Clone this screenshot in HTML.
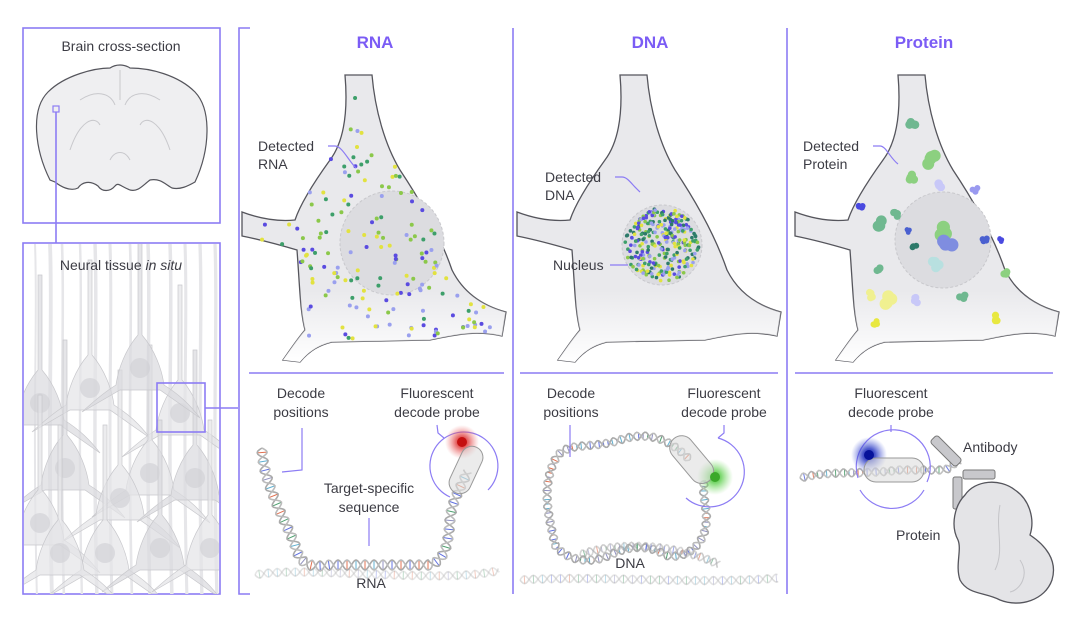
<!DOCTYPE html>
<html><head><meta charset="utf-8">
<style>
html,body{margin:0;padding:0;background:#fff;}
svg{display:block;}
text{font-family:"Liberation Sans",sans-serif;fill:#3c3c44;font-size:14px;}
.t{font-size:17px;font-weight:bold;fill:#7b5cf5;}
.ln{stroke:#8c7cf4;stroke-width:1.6;fill:none;}
.cell{fill:#e9e9ec;stroke:#55555c;stroke-width:1.3;}
</style></head>
<body>
<svg id="s" width="1080" height="619" viewBox="0 0 1080 619" xmlns="http://www.w3.org/2000/svg">
<defs>
<radialGradient id="gr"><stop offset="0" stop-color="#d01818"/><stop offset="0.35" stop-color="#e04040" stop-opacity=".8"/><stop offset="1" stop-color="#f08080" stop-opacity="0"/></radialGradient>
<radialGradient id="gg"><stop offset="0" stop-color="#3bb02a"/><stop offset="0.35" stop-color="#60d050" stop-opacity=".8"/><stop offset="1" stop-color="#90e080" stop-opacity="0"/></radialGradient>
<radialGradient id="gb"><stop offset="0" stop-color="#0a10a0"/><stop offset="0.35" stop-color="#2030c0" stop-opacity=".8"/><stop offset="1" stop-color="#6070e0" stop-opacity="0"/></radialGradient>
<linearGradient id="tis" x1="0" y1="0" x2="0" y2="1"><stop offset="0" stop-color="#fdfdfd"/><stop offset="1" stop-color="#f0f0f2"/></linearGradient>
<linearGradient id="fadeb" x1="0" y1="0" x2="0" y2="1"><stop offset="0.75" stop-color="#fff" stop-opacity="0"/><stop offset="1" stop-color="#fff" stop-opacity="1"/></linearGradient>
<clipPath id="tc"><rect x="24" y="244" width="195" height="350"/></clipPath>
</defs>

<rect x="23" y="28" width="197" height="195" fill="#fff" class="ln"/>
<text x="121" y="51" text-anchor="middle">Brain cross-section</text>
<path d="M50,180 C35,150 30,110 48,92 C65,75 95,68 110,68 C116,64 124,64 130,68 C150,68 178,75 195,92 C212,110 210,150 195,182 C188,186 180,190 172,188 C165,184 160,178 150,180 C142,186 138,192 130,190 C120,186 118,182 115,186 C110,192 102,192 98,186 C90,180 82,182 78,188 C70,192 60,186 55,182 Z" fill="#efeff1" stroke="#55555c" stroke-width="1.2"/>
<path d="M120,70 L120,100 M80,100 C95,90 110,92 115,105 M160,100 C145,90 130,92 125,105 M70,150 C80,120 95,115 100,125 M170,150 C160,120 145,115 140,125 M110,160 C115,150 125,150 130,160" stroke="#c8c8cc" fill="none"/>
<rect x="53" y="106" width="6" height="6" fill="#fff" class="ln" style="stroke-width:1.2"/>
<line x1="56" y1="112" x2="56" y2="243" class="ln"/>

<rect x="23" y="243" width="197" height="351" fill="url(#tis)" class="ln"/>
<g clip-path="url(#tc)" id="tissue"></g>
<text x="121" y="270" text-anchor="middle">Neural tissue <tspan font-style="italic">in situ</tspan></text>
<rect x="157" y="383" width="48" height="49" fill="none" class="ln"/>
<line x1="205" y1="408" x2="238" y2="408" class="ln"/>

<path d="M250,28 L239,28 L239,594 L250,594" class="ln"/>
<line x1="513" y1="28" x2="513" y2="594" class="ln"/>
<line x1="787" y1="28" x2="787" y2="594" class="ln"/>
<line x1="249" y1="373" x2="504" y2="373" class="ln"/>
<line x1="520" y1="373" x2="778" y2="373" class="ln"/>
<line x1="795" y1="373" x2="1053" y2="373" class="ln"/>

<text x="375" y="48" class="t" text-anchor="middle">RNA</text>
<text x="650" y="48" class="t" text-anchor="middle">DNA</text>
<text x="924" y="48" class="t" text-anchor="middle">Protein</text>

<g id="cells"></g>
<g id="helix"></g>

<text x="258" y="151">Detected</text><text x="258" y="169">RNA</text>
<path d="M328,146 L335,146 C342,146 348,160 356,168" class="ln" style="stroke-width:1.2"/>
<text x="545" y="182">Detected</text><text x="545" y="200">DNA</text>
<path d="M615,177 L622,177 C628,177 632,185 640,192" class="ln" style="stroke-width:1.2"/>
<text x="553" y="270">Nucleus</text>
<path d="M610,265 L628,265" class="ln" style="stroke-width:1.2"/>
<text x="803" y="151">Detected</text><text x="803" y="169">Protein</text>
<path d="M873,146 L880,146 C886,146 890,158 898,164" class="ln" style="stroke-width:1.2"/>

<text x="301" y="398" text-anchor="middle">Decode</text><text x="301" y="417" text-anchor="middle">positions</text>
<path d="M302,428 L302,470 L282,472" class="ln" style="stroke-width:1.2"/>
<text x="437" y="398" text-anchor="middle">Fluorescent</text><text x="437" y="417" text-anchor="middle">decode probe</text>
<text x="369" y="493" text-anchor="middle">Target-specific</text><text x="369" y="512" text-anchor="middle">sequence</text>
<line x1="369" y1="518" x2="369" y2="546" class="ln" style="stroke-width:1.2"/>
<text x="371" y="588" text-anchor="middle">RNA</text>
<path d="M450,497 A34,34 0 1 1 488,490" class="ln" style="stroke-width:1.2"/>
<path d="M437,425 L438,433 L444,438" class="ln" style="stroke-width:1.2"/>
<circle cx="462" cy="442" r="17" fill="url(#gr)"/>
<rect x="455" y="445" width="22" height="50" rx="11" fill="#ddd" fill-opacity=".6" stroke="#999" transform="rotate(25 466 470)"/>
<circle cx="462" cy="442" r="5" fill="#c41010"/>

<text x="571" y="398" text-anchor="middle">Decode</text><text x="571" y="417" text-anchor="middle">positions</text>
<line x1="570" y1="425" x2="570" y2="457" class="ln" style="stroke-width:1.2"/>
<text x="724" y="398" text-anchor="middle">Fluorescent</text><text x="724" y="417" text-anchor="middle">decode probe</text>
<path d="M724,425 L724,433 L718,438 M718,438 A35,35 0 1 1 686,498" class="ln" style="stroke-width:1.2"/>
<circle cx="715" cy="477" r="18" fill="url(#gg)"/>
<rect x="680" y="432" width="24" height="55" rx="12" fill="#ddd" fill-opacity=".6" stroke="#999" transform="rotate(-40 692 460)"/>
<circle cx="715" cy="477" r="5" fill="#3aa82a"/>
<text x="630" y="568" text-anchor="middle">DNA</text>

<text x="891" y="398" text-anchor="middle">Fluorescent</text><text x="891" y="417" text-anchor="middle">decode probe</text>
<line x1="891" y1="425" x2="891" y2="432" class="ln" style="stroke-width:1.2"/>
<path d="M858,478 A37,37 0 1 1 927,482 M924,490 A37,37 0 0 1 860,490" class="ln" style="stroke-width:1.2"/>
<circle cx="869" cy="455" r="18" fill="url(#gb)"/>
<rect x="864" y="458" width="60" height="24" rx="12" fill="#ddd" fill-opacity=".6" stroke="#999"/>
<circle cx="869" cy="455" r="5" fill="#06129a"/>
<g fill="#c8c8cc" stroke="#777" stroke-width="1">
<rect x="928" y="446" width="36" height="10" rx="3" transform="rotate(45 946 451)"/>
<rect x="963" y="470" width="32" height="9" rx="2"/>
<rect x="953" y="477" width="9" height="32" rx="2"/>
</g>
<text x="963" y="452">Antibody</text>
<path d="M965,495 C975,480 1000,478 1015,490 C1030,500 1035,520 1030,535 C1045,545 1058,560 1052,580 C1045,600 1020,608 1000,600 C985,592 968,595 960,580 C955,565 962,550 958,540 C950,525 955,505 965,495 Z" fill="#e4e4e7" stroke="#55555c" stroke-width="1.3"/>
<path d="M1000,505 C995,530 1005,550 995,570 M1020,560 C1030,575 1020,590 1010,592" stroke="#c4c4c8" fill="none"/>
<text x="896" y="540">Protein</text>
</svg>
<script>
(function(){
var NS="http://www.w3.org/2000/svg";
var seed=7;function r(){seed=(seed*16807)%2147483647;return (seed-1)/2147483646;}
function el(t,a,p){var e=document.createElementNS(NS,t);for(var k in a)e.setAttribute(k,a[k]);(p||document.getElementById('s')).appendChild(e);return e;}
var tg=document.getElementById('tissue');
var xs=[35,50,62,80,95,110,130,148,170,185,200,215];
xs.forEach(function(x){el('path',{d:'M'+x+',244 C'+(x+3)+',320 '+(x-3)+',400 '+(x+2)+',600',stroke:'#e6e6e9','stroke-width':2+r()*2,fill:'none'},tg);});
var cells=[[40,395],[90,380],[180,405],[65,460],[150,465],[120,490],[195,470],[40,515],[105,545],[160,540],[60,545],[210,540],[140,360]];
cells.forEach(function(c,i){var x=c[0],y=c[1],g='#'+(i%3?'e4e4e7':'dadade');
el('path',{d:'M'+(x-2)+','+(y-120)+' L'+(x-2)+','+(y-25)+' C'+(x-15)+','+(y-10)+' '+(x-22)+','+(y+10)+' '+(x-24)+','+(y+25)+' C'+(x-40)+','+(y+35)+' '+(x-50)+','+(y+45)+' '+(x-58)+','+(y+52)+' L'+(x-20)+','+(y+30)+' L'+(x+20)+','+(y+30)+' L'+(x+60)+','+(y+58)+' C'+(x+50)+','+(y+45)+' '+(x+40)+','+(y+35)+' '+(x+24)+','+(y+25)+' C'+(x+22)+','+(y+10)+' '+(x+15)+','+(y-10)+' '+(x+2)+','+(y-25)+' L'+(x+2)+','+(y-120)+' Z',fill:g,'fill-opacity':.7,stroke:'#c8c8cc','stroke-width':.7},tg);
el('circle',{cx:x,cy:y+8,r:10,fill:'#cfcfd3','fill-opacity':.6},tg);});
var cg=document.getElementById('cells');
var base="M345,75 C348,110 345,140 330,160 C312,185 300,205 295,220 C275,222 258,218 242,212 L242,236 C262,240 280,245 297,250 C300,290 300,310 305,330 C298,338 290,350 283,360 L300,362 C310,350 320,345 332,342 L430,340 C455,335 475,330 502,336 L506,312 C480,305 462,290 452,270 C440,235 420,200 400,170 C385,145 375,110 372,75 Z";
var specs=[[0,392,243,52],[275,662,245,40],[553,943,240,48]];
var paths=[];
specs.forEach(function(s,i){var g=el('g',{transform:'translate('+s[0]+',0)'},cg);
var p=el('path',{d:base,'class':'cell'},g);paths.push(p);
el('circle',{cx:s[1]-s[0],cy:s[2],r:s[3],fill:'#dcdce0',stroke:'#c8c8cc','stroke-dasharray':'3 2'},g);
el('path',{d:base,fill:'url(#fadeb)',stroke:'none'},g);
});
var cols=['#5a4be0','#3d9f6a','#8bc84a','#e2e240','#9aa0ee','#2d7a6a'];
for(var n=0;n<420;n++){var x=250+r()*255,y=75+r()*290;var pt=document.getElementById('s').createSVGPoint();pt.x=x;pt.y=y;
 if(paths[0].isPointInFill(pt)&&y<345&&x>260&&x<490)el('circle',{cx:x,cy:y,r:2,fill:cols[Math.floor(r()*5)]},cg);}
for(var n=0;n<300;n++){var a=r()*6.283,d=Math.sqrt(r())*37;el('circle',{cx:662+Math.cos(a)*d,cy:245+Math.sin(a)*d,r:1.8,fill:cols[Math.floor(r()*6)]},cg);}
var pb=[[912,122,'#6fb890',7],[932,160,'#8cd080',10],[912,178,'#8cd080',7],[940,185,'#c8c8f8',7],[878,222,'#6fb890',9],[895,215,'#6fb890',6],[940,232,'#8cd080',11],[948,245,'#7f8de0',11],[915,248,'#2d7a6a',5],[935,265,'#b8e0e0',8],[880,270,'#6fb890',6],[887,300,'#f0f090',10],[870,295,'#f0f090',6],[917,300,'#c8c8f8',6],[962,298,'#6fb890',6],[861,208,'#4a4ae0',5],[908,231,'#4a60d0',4],[985,240,'#4a60d0',5],[975,190,'#9a9af0',5],[1006,272,'#8cd080',6],[875,323,'#e8e840',5],[995,318,'#e8e840',6],[1000,240,'#4a4ae0',4]];
pb.forEach(function(b){for(var k=0;k<4;k++)el('circle',{cx:b[0]+(r()-.5)*b[3],cy:b[1]+(r()-.5)*b[3],r:b[3]*.6,fill:b[2]},cg);});
var hg=document.getElementById('helix');
var hc=['#e07050','#50a070','#6070e0','#60b0d0','#9090c0'];
function helix(d,amp,per,op){var p=el('path',{d:d,fill:'none',stroke:'none'},hg);var L=p.getTotalLength();var s1='',s2='';
 for(var l=0;l<=L;l+=1.5){var a=p.getPointAtLength(l),b=p.getPointAtLength(Math.min(L,l+1));var dx=b.x-a.x,dy=b.y-a.y,m=Math.hypot(dx,dy)||1;var nx=-dy/m,ny=dx/m;var o=amp*Math.sin(l/per*6.283);
  s1+=(l?'L':'M')+(a.x+nx*o).toFixed(1)+','+(a.y+ny*o).toFixed(1);s2+=(l?'L':'M')+(a.x-nx*o).toFixed(1)+','+(a.y-ny*o).toFixed(1);
  if(Math.floor(l/1.5)%3==0)el('line',{x1:a.x+nx*o,y1:a.y+ny*o,x2:a.x-nx*o,y2:a.y-ny*o,stroke:hc[Math.floor(r()*5)],'stroke-width':1,opacity:op},hg);}
 el('path',{d:s1,stroke:'#aaa','stroke-width':1.6,fill:'none',opacity:op},hg);el('path',{d:s2,stroke:'#bbb','stroke-width':1.6,fill:'none',opacity:op},hg);}
helix('M255,575 C300,565 450,585 500,570',4,18,.35);
helix('M262,448 C262,480 285,520 295,545 C300,565 310,568 330,565 L430,565 C445,560 448,545 450,520 C452,500 460,490 468,470',5,18,1);
helix('M520,580 C600,575 700,585 778,578',4,18,.4);
helix('M690,460 C670,440 650,430 620,440 C590,450 565,440 555,460 C540,490 550,520 555,545 C565,560 590,565 610,555 C630,545 650,545 665,555 C680,560 700,550 705,530 C710,510 700,495 705,480',4,16,1);
helix('M580,555 C620,540 680,545 720,565',4,14,.6);
helix('M800,478 C830,470 860,475 900,470 L945,470 C950,468 955,462 960,460',4,16,.9);
})();
</script>
</body></html>
